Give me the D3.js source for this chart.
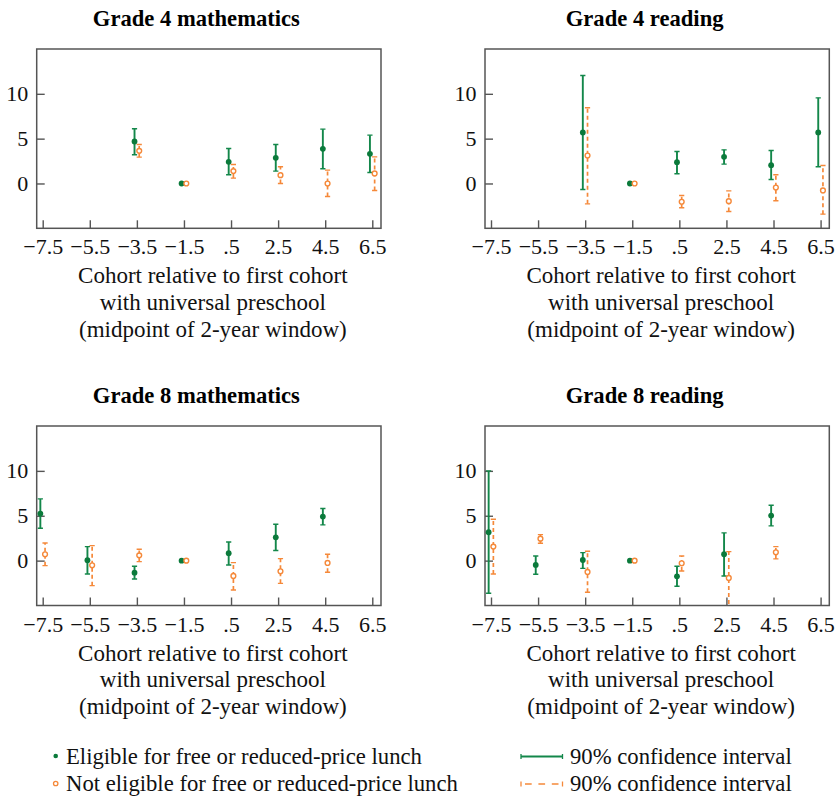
<!DOCTYPE html>
<html>
<head>
<meta charset="utf-8">
<script src="https://cdn.jsdelivr.net/npm/d3@7"></script>
<style>
  html, body { margin: 0; padding: 0; background: #fff; }
  svg { display: block; }
</style>
</head>
<body>
<svg id="chart" width="839" height="799"></svg>
<script>
// ---------- DATA ----------
const categories = [-7.5, -5.5, -3.5, -1.5, 0.5, 2.5, 4.5, 6.5];
const tickLabels = ["\u22127.5", "\u22125.5", "\u22123.5", "\u22121.5", ".5", "2.5", "4.5", "6.5"];
const yTicks = [0, 5, 10];
const panelTitles = ["Grade 4 mathematics", "Grade 4 reading", "Grade 8 mathematics", "Grade 8 reading"];
const axisLabelLines = ["Cohort relative to first cohort", "with universal preschool", "(midpoint of 2-year window)"];
const legendSeries = ["Eligible for free or reduced-price lunch", "Not eligible for free or reduced-price lunch"];
const legendCI = ["90% confidence interval", "90% confidence interval"];

// each entry: [estimate, lower 90% CI, upper 90% CI]; null = not available
const g4mathEligible    = [null, null, [4.68, 3.2, 6.1], [0, 0, 0], [2.42, 0.97, 3.9], [2.86, 1.38, 4.35], [3.87, 1.64, 6.06], [3.31, 1.23, 5.39]];
const g4mathNotEligible = [null, null, [3.64, 2.94, 4.35], [0, 0, 0], [1.38, 0.6, 2.12], [0.93, 0.0, 1.86], [0.0, -1.45, 1.49], [1.12, -0.78, 2.97]];
const g4readEligible    = [null, null, [5.69, -0.67, 12.04], [0, 0, 0], [2.38, 1.08, 3.57], [2.97, 2.16, 3.75], [2.04, 0.45, 3.68], [5.69, 1.86, 9.55]];
const g4readNotEligible = [null, null, [3.12, -2.27, 8.44], [0, 0, 0], [-2.04, -2.71, -1.34], [-1.97, -3.12, -0.82], [-0.45, -1.93, 0.97], [-0.78, -3.42, 2.0]];
const g8mathEligible    = [[5.24, 3.6, 6.88], [0.04, -1.49, 1.56], [-1.34, -2.04, -0.63], [0, 0, 0], [0.82, -0.48, 2.08], [2.6, 1.12, 4.05], [4.91, 3.98, 5.8], null];
const g8mathNotEligible = [[0.71, -0.56, 1.97], [-0.52, -2.79, 1.67], [0.59, -0.11, 1.26], [0, 0, 0], [-1.71, -3.27, -0.22], [-1.19, -2.53, 0.22], [-0.26, -1.3, 0.71], null];
const g8readEligible    = [[3.16, -3.64, 10.0], [-0.48, -1.52, 0.52], [0.07, -0.86, 0.89], [0, 0, 0], [-1.75, -2.86, -0.63], [0.71, -1.71, 3.09], [5.02, 3.87, 6.17], null];
const g8readNotEligible = [[1.56, -1.49, 4.61], [2.45, 1.93, 2.9], [-1.26, -3.53, 1.04], [0, 0, 0], [-0.3, -1.15, 0.52], [-1.93, -5.6, 1.0], [0.93, 0.19, 1.56], null];

const panelEligible = [g4mathEligible, g4readEligible, g8mathEligible, g8readEligible];
const panelNotEligible = [g4mathNotEligible, g4readNotEligible, g8mathNotEligible, g8readNotEligible];

// ---------- STYLE / LAYOUT ----------
const GREEN = "#13874a", GREEN_DOT = "#0b7a3b", ORANGE = "#f5893a";
const FRAME = "#555";
const SERIF = "'Liberation Serif', 'Times New Roman', Times, serif";
const frames = [
  { x0: 36.7, x1: 381, y0: 49, y1: 228.3 },
  { x0: 485, x1: 829.3, y0: 49, y1: 228.3 },
  { x0: 36.7, x1: 381, y0: 426, y1: 605.5 },
  { x0: 485, x1: 829.3, y0: 426, y1: 605.5 }
];
const xDomain = [-7.755, 6.87];
const yDomain = [-5, 15];
const offset = 0.1; // horizontal dodge between groups

const svg = d3.select("#chart");

frames.forEach((f, i) => {
  const x = d3.scaleLinear().domain(xDomain).range([f.x0, f.x1]);
  const y = d3.scaleLinear().domain(yDomain).range([f.y1, f.y0]);
  const g = svg.append("g");

  // clip
  const clipId = "clip" + i;
  svg.append("defs").append("clipPath").attr("id", clipId)
    .append("rect").attr("x", f.x0).attr("y", f.y0).attr("width", f.x1 - f.x0).attr("height", f.y1 - f.y0);

  // title
  g.append("text")
    .attr("x", (f.x0 + f.x1) / 2 - 12.5).attr("y", f.y0 - 23.5)
    .attr("text-anchor", "middle")
    .style("font-family", SERIF).style("font-size", "22.6px").style("font-weight", "bold")
    .text(panelTitles[i]);

  // axes (ticks inward)
  const xAxis = d3.axisBottom(x).tickValues(categories)
    .tickFormat((d, k) => tickLabels[k]).tickSize(-8).tickPadding(10.5);
  const ax = g.append("g").attr("transform", `translate(0,${f.y1})`).call(xAxis);
  const yAxis = d3.axisLeft(y).tickValues(yTicks).tickSize(-8).tickPadding(8.5);
  const ay = g.append("g").attr("transform", `translate(${f.x0},0)`).call(yAxis);
  [ax, ay].forEach(a => {
    a.select(".domain").remove();
    a.selectAll(".tick line").attr("stroke", FRAME).attr("stroke-width", 1.4);
    a.selectAll(".tick text").attr("fill", "#111")
      .style("font-family", SERIF).style("font-size", "22px");
  });

  // frame
  g.append("rect").attr("x", f.x0).attr("y", f.y0)
    .attr("width", f.x1 - f.x0).attr("height", f.y1 - f.y0)
    .attr("fill", "none").attr("stroke", FRAME).attr("stroke-width", 1.5);

  // axis label
  axisLabelLines.forEach((t, k) => {
    g.append("text")
      .attr("x", (f.x0 + f.x1) / 2 + 4).attr("y", f.y1 + 55 + k * 26.7)
      .attr("text-anchor", "middle")
      .style("font-family", SERIF).style("font-size", "23px").attr("fill", "#111")
      .text(t);
  });

  const plot = g.append("g").attr("clip-path", `url(#${clipId})`);

  function errorBars(series, dx, color, dash, width) {
    const data = categories.map((c, k) => ({ c, v: series[k] }))
      .filter(d => d.v && d.v[1] !== d.v[2]);
    const bars = plot.append("g");
    data.forEach(d => {
      const cx = x(d.c + dx);
      bars.append("line").attr("x1", cx).attr("x2", cx)
        .attr("y1", y(d.v[1])).attr("y2", y(d.v[2]))
        .attr("stroke", color).attr("stroke-width", width)
        .attr("stroke-dasharray", dash);
      [d.v[1], d.v[2]].forEach(e => {
        bars.append("line").attr("x1", cx - 2.6).attr("x2", cx + 2.6)
          .attr("y1", y(e)).attr("y2", y(e))
          .attr("stroke", color).attr("stroke-width", 1.4);
      });
    });
  }
  errorBars(panelEligible[i], -offset, GREEN, null, 1.9);
  errorBars(panelNotEligible[i], offset, ORANGE, "4,3", 1.7);

  const elig = categories.map((c, k) => ({ c, v: panelEligible[i][k] })).filter(d => d.v);
  plot.append("g").selectAll("circle").data(elig).join("circle")
    .attr("cx", d => x(d.c - offset)).attr("cy", d => y(d.v[0]))
    .attr("r", 2.9).attr("fill", GREEN_DOT);
  const notElig = categories.map((c, k) => ({ c, v: panelNotEligible[i][k] })).filter(d => d.v);
  plot.append("g").selectAll("circle").data(notElig).join("circle")
    .attr("cx", d => x(d.c + offset)).attr("cy", d => y(d.v[0]))
    .attr("r", 2.4).attr("fill", "#fff").attr("stroke", ORANGE).attr("stroke-width", 1.4);
});

// ---------- LEGEND ----------
const leg = svg.append("g");
const legY = [756, 783.5];
leg.append("circle").attr("cx", 55.7).attr("cy", legY[0]).attr("r", 2.3).attr("fill", GREEN_DOT);
leg.append("circle").attr("cx", 55.7).attr("cy", legY[1]).attr("r", 2.2).attr("fill", "#fff")
  .attr("stroke", ORANGE).attr("stroke-width", 1.3);
legendSeries.forEach((t, k) => {
  leg.append("text").attr("x", 66).attr("y", legY[k] + 7.5)
    .style("font-family", SERIF).style("font-size", "22.7px").attr("fill", "#111").text(t);
});
[[GREEN, null, 1.8], [ORANGE, "6.7,6.7", 1.7]].forEach(([col, dash, w], k) => {
  const yy = legY[k] + 0.5;
  leg.append("line").attr("x1", 521).attr("x2", 562.5).attr("y1", yy).attr("y2", yy)
    .attr("stroke", col).attr("stroke-width", w).attr("stroke-dasharray", dash)
    .attr("stroke-dashoffset", dash ? 9.4 : null);
  [521, 562.5].forEach(xx => {
    leg.append("line").attr("x1", xx).attr("x2", xx).attr("y1", yy - 2.5).attr("y2", yy + 2.5)
      .attr("stroke", col).attr("stroke-width", 1.3);
  });
  leg.append("text").attr("x", 570).attr("y", legY[k] + 7.5)
    .style("font-family", SERIF).style("font-size", "22.7px").attr("fill", "#111").text(legendCI[k]);
});
</script>
</body>
</html>
